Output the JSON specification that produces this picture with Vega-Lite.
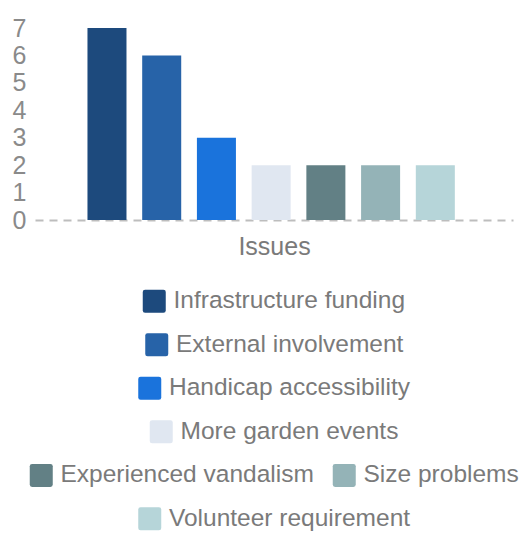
{
  "$schema": "https://vega.github.io/schema/vega-lite/v6.json",
  "width": 478,
  "height": 192,
  "padding": {"left": 12, "top": 16, "right": 8, "bottom": 5},
  "background": "white",
  "datasets": {
    "issues": [
      {"category": "Issues", "issue": "Infrastructure funding", "count": 7},
      {"category": "Issues", "issue": "External involvement", "count": 6},
      {"category": "Issues", "issue": "Handicap accessibility", "count": 3},
      {"category": "Issues", "issue": "More garden events", "count": 2},
      {"category": "Issues", "issue": "Experienced vandalism", "count": 2},
      {"category": "Issues", "issue": "Size problems", "count": 2},
      {"category": "Issues", "issue": "Volunteer requirement", "count": 2}
    ]
  },
  "data": {"name": "issues"},
  "encoding": {
    "x": {
      "field": "category",
      "type": "nominal",
      "scale": {"paddingInner": 0, "paddingOuter": 0.124, "align": 0.47},
      "axis": {
        "title": "Issues",
        "titleFontSize": 25,
        "titleFontWeight": "normal",
        "titleFont": "Liberation Sans",
        "titleColor": "#7a7a7a",
        "titlePadding": 14,
        "labels": false,
        "ticks": false,
        "domainColor": "#bdbdbd",
        "domainWidth": 2,
        "domainDash": [8, 6]
      }
    },
    "xOffset": {
      "field": "issue",
      "type": "nominal",
      "scale": {
        "domain": ["Infrastructure funding", "External involvement", "Handicap accessibility", "More garden events", "Experienced vandalism", "Size problems", "Volunteer requirement"],
        "paddingInner": 0.287,
        "paddingOuter": 0.143
      }
    },
    "y": {
      "field": "count",
      "type": "quantitative",
      "scale": {"domain": [0, 7], "nice": false},
      "axis": {
        "title": null,
        "grid": false,
        "domain": false,
        "ticks": false,
        "values": [0, 1, 2, 3, 4, 5, 6, 7],
        "labelFontSize": 25,
        "labelFont": "Liberation Sans",
        "labelColor": "#8a8a8a",
        "labelPadding": 9,
        "labelOverlap": false,
        "labelBound": false,
        "labelFlush": false
      }
    }
  },
  "layer": [
    {
      "transform": [{"filter": {"field": "issue", "oneOf": ["Infrastructure funding"]}}],
      "mark": {"type": "bar"},
      "encoding": {"color": {"field": "issue", "type": "nominal", "scale": {"domain": ["Infrastructure funding"], "range": ["#1d4a7d"]}, "legend": {"title": null, "orient": "bottom", "direction": "horizontal"}}}
    },
    {
      "transform": [{"filter": {"field": "issue", "oneOf": ["External involvement"]}}],
      "mark": {"type": "bar"},
      "encoding": {"color": {"field": "issue", "type": "nominal", "scale": {"domain": ["External involvement"], "range": ["#2763a8"]}, "legend": {"title": null, "orient": "bottom", "direction": "horizontal"}}}
    },
    {
      "transform": [{"filter": {"field": "issue", "oneOf": ["Handicap accessibility"]}}],
      "mark": {"type": "bar"},
      "encoding": {"color": {"field": "issue", "type": "nominal", "scale": {"domain": ["Handicap accessibility"], "range": ["#1a73dc"]}, "legend": {"title": null, "orient": "bottom", "direction": "horizontal"}}}
    },
    {
      "transform": [{"filter": {"field": "issue", "oneOf": ["More garden events"]}}],
      "mark": {"type": "bar"},
      "encoding": {"color": {"field": "issue", "type": "nominal", "scale": {"domain": ["More garden events"], "range": ["#e0e7f1"]}, "legend": {"title": null, "orient": "bottom", "direction": "horizontal"}}}
    },
    {
      "transform": [{"filter": {"field": "issue", "oneOf": ["Experienced vandalism", "Size problems"]}}],
      "mark": {"type": "bar"},
      "encoding": {"color": {"field": "issue", "type": "nominal", "scale": {"domain": ["Experienced vandalism", "Size problems"], "range": ["#628085", "#94b3b7"]}, "legend": {"title": null, "orient": "bottom", "direction": "horizontal"}}}
    },
    {
      "transform": [{"filter": {"field": "issue", "oneOf": ["Volunteer requirement"]}}],
      "mark": {"type": "bar"},
      "encoding": {"color": {"field": "issue", "type": "nominal", "scale": {"domain": ["Volunteer requirement"], "range": ["#b6d5d9"]}, "legend": {"title": null, "orient": "bottom", "direction": "horizontal"}}}
    }
  ],
  "resolve": {"scale": {"color": "independent"}, "legend": {"color": "independent"}},
  "config": {
    "view": {"stroke": null},
    "legend": {
      "labelFontSize": 24.5,
      "labelFont": "Liberation Sans",
      "labelColor": "#7a7a7a",
      "labelLimit": 400,
      "symbolSize": 529,
      "symbolType": "M -1 -0.8 Q -1 -1 -0.8 -1 L 0.8 -1 Q 1 -1 1 -0.8 L 1 0.8 Q 1 1 0.8 1 L -0.8 1 Q -1 1 -1 0.8 Z",
      "symbolStrokeWidth": 0,
      "symbolOpacity": 1,
      "labelOffset": 7,
      "columnPadding": 18,
      "offset": 30,
      "layout": {
        "bottom": {"anchor": "middle", "direction": "vertical", "center": true, "margin": 19.5, "bounds": "full"}
      }
    }
  }
}
